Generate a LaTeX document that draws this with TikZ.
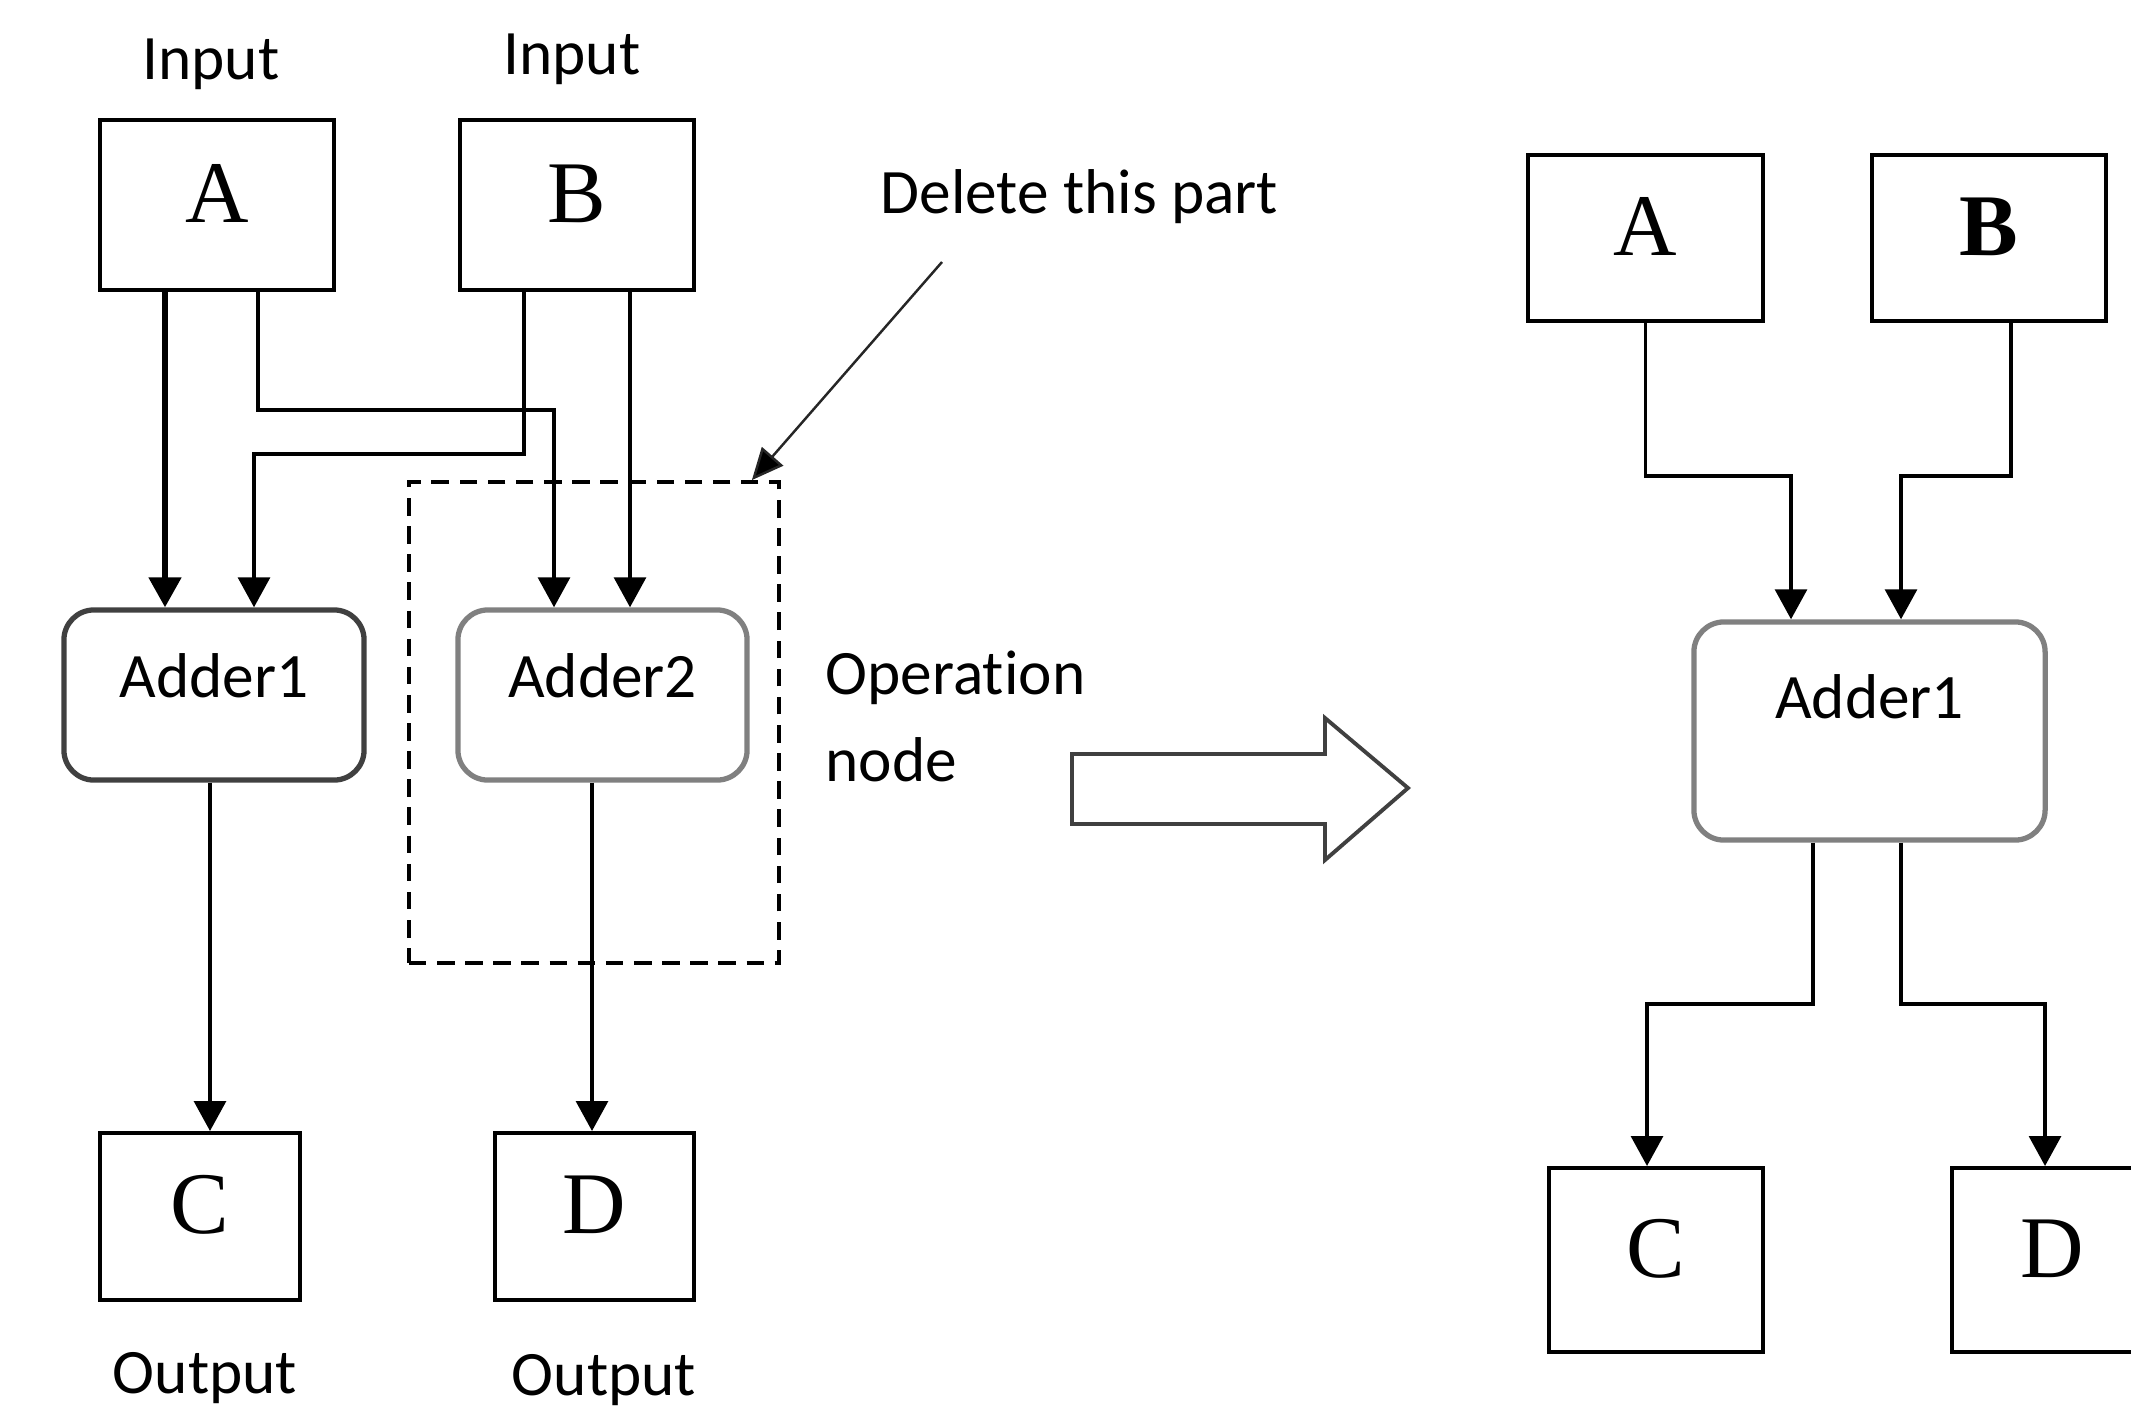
\documentclass[tikz,border=0pt]{standalone}
\usepackage{fontspec}
\setmainfont{Carlito}[Ligatures=CommonOff]
\newfontfamily\serifletters{Liberation Serif}
\usetikzlibrary{arrows.meta,calc}

\tikzset{
  letterbox/.style={draw, line width=1.1pt, inner sep=0pt,
    font=\serifletters\fontsize{25}{28}\selectfont, text height=0.58cm, text depth=0.24cm},
  adder/.style={draw=black!75, line width=1.5pt, rounded corners=0.3cm, inner sep=0pt,
    font=\fontsize{18}{20}\selectfont, text height=0.44cm, text depth=0.40cm},
  wire/.style={line width=1.1pt, -{Triangle[length=8.5pt,width=9pt]}},
  tag/.style={inner sep=0pt, anchor=base, font=\fontsize{18}{20}\selectfont},
}

\begin{document}
\begin{tikzpicture}[x=0.01cm, y=-0.01cm]
    \useasboundingbox (0,0) rectangle (2131,1412);
    \clip (0,0) rectangle (2131,1412);

    % Part to be removed
    \node[draw, line width=1pt, dash pattern=on 5pt off 3pt, minimum width=3.7cm, minimum height=4.81cm, inner sep=0pt] (part) at (594,722.5) {};

    % Before: inputs, adders, outputs
    \node[letterbox, minimum width=2.34cm, minimum height=1.7cm] (A) at (217,205) {A};
    \node[letterbox, minimum width=2.34cm, minimum height=1.7cm] (B) at (577,205) {B};
    \node[adder, minimum width=3cm, minimum height=1.7cm] (Adder1) at (214,695) {Adder1};
    \node[adder, draw=black!50, minimum width=2.89cm, minimum height=1.7cm] (Adder2) at (602.5,695) {Adder2};
    \node[letterbox, minimum width=2cm, minimum height=1.67cm] (C) at (200,1216.5) {C};
    \node[letterbox, minimum width=1.99cm, minimum height=1.67cm] (D) at (594.5,1216.5) {D};

    \node[tag] (in1) at (211,79) {Input};
    \node[tag] (in2) at (572,74) {Input};
    \node[tag] (out1) at (205,1393) {Output};
    \node[tag] (out2) at (604,1395) {Output};
    \node[tag, anchor=base west] (del) at (880,213) {Delete this part};
    \node[tag, anchor=base west] (op) at (825,694) {Operation};
    \node[tag, anchor=base west] (op2) at (825,781) {node};

    % Wires into the adders
    \coordinate (a1) at ($(A.south)+(-52,0)$);
    \coordinate (b2) at ($(B.south)+(53,0)$);
    \draw[wire, line width=1.6pt] (a1) -- (a1 |- Adder1.north);
    \draw[wire] ($(A.south)+(41,0)$) -- ++(0,118) -| ($(Adder2.north)+(-48.5,0)$);
    \draw[wire] ($(B.south)+(-53,0)$) -- ++(0,162) -| ($(Adder1.north)+(40,0)$);
    \draw[wire] (b2) -- (b2 |- Adder2.north);

    % Wires to the outputs
    \coordinate (s1) at ($(Adder1.south)+(-4,0)$);
    \coordinate (s2) at ($(Adder2.south)+(-10.5,0)$);
    \draw[wire] (s1) -- (s1 |- C.north);
    \draw[wire] (s2) -- (s2 |- D.north);

    % Pointer to the dashed part
    \coordinate (delTail) at (942,262);
    \draw[line width=0.7pt, draw=black!85, -{Triangle[length=9pt,width=8pt,fill=black]}] (delTail) -- ($(part.north east)+(-29,0)$);

    % Transformation arrow
    \draw[draw=black!75, line width=1.1pt, fill=white] (1072,754) -- (1325,754) -- (1325,718) -- (1408,788) -- (1325,860) -- (1325,824) -- (1072,824) -- cycle;

    % After: one adder feeding both outputs
    \node[letterbox, minimum width=2.35cm, minimum height=1.66cm] (A2) at (1645.5,238) {A};
    \node[letterbox, minimum width=2.34cm, minimum height=1.66cm, font=\serifletters\bfseries\fontsize{25}{28}\selectfont] (B2) at (1989,238) {B};
    \node[adder, draw=black!50, minimum width=3.51cm, minimum height=2.18cm, text depth=0.70cm] (Adder3) at (1869.5,731) {Adder1};
    \node[letterbox, minimum width=2.14cm, minimum height=1.84cm] (C2) at (1656,1260) {C};
    \node[letterbox, minimum width=2cm, minimum height=1.84cm] (D2) at (2052,1260) {D};

    \draw[wire] (A2.south) -- ++(0,153) -| ($(Adder3.north)+(-78.5,0)$);
    \draw[wire] ($(B2.south)+(22,0)$) -- ++(0,153) -| ($(Adder3.north)+(31.5,0)$);
    \draw[wire] ($(Adder3.south)+(-56.5,0)$) -- ++(0,161) -| ($(C2.north)+(-9,0)$);
    \draw[wire] ($(Adder3.south)+(31.5,0)$) -- ++(0,161) -| ($(D2.north)+(-7,0)$);
\end{tikzpicture}
\end{document}
